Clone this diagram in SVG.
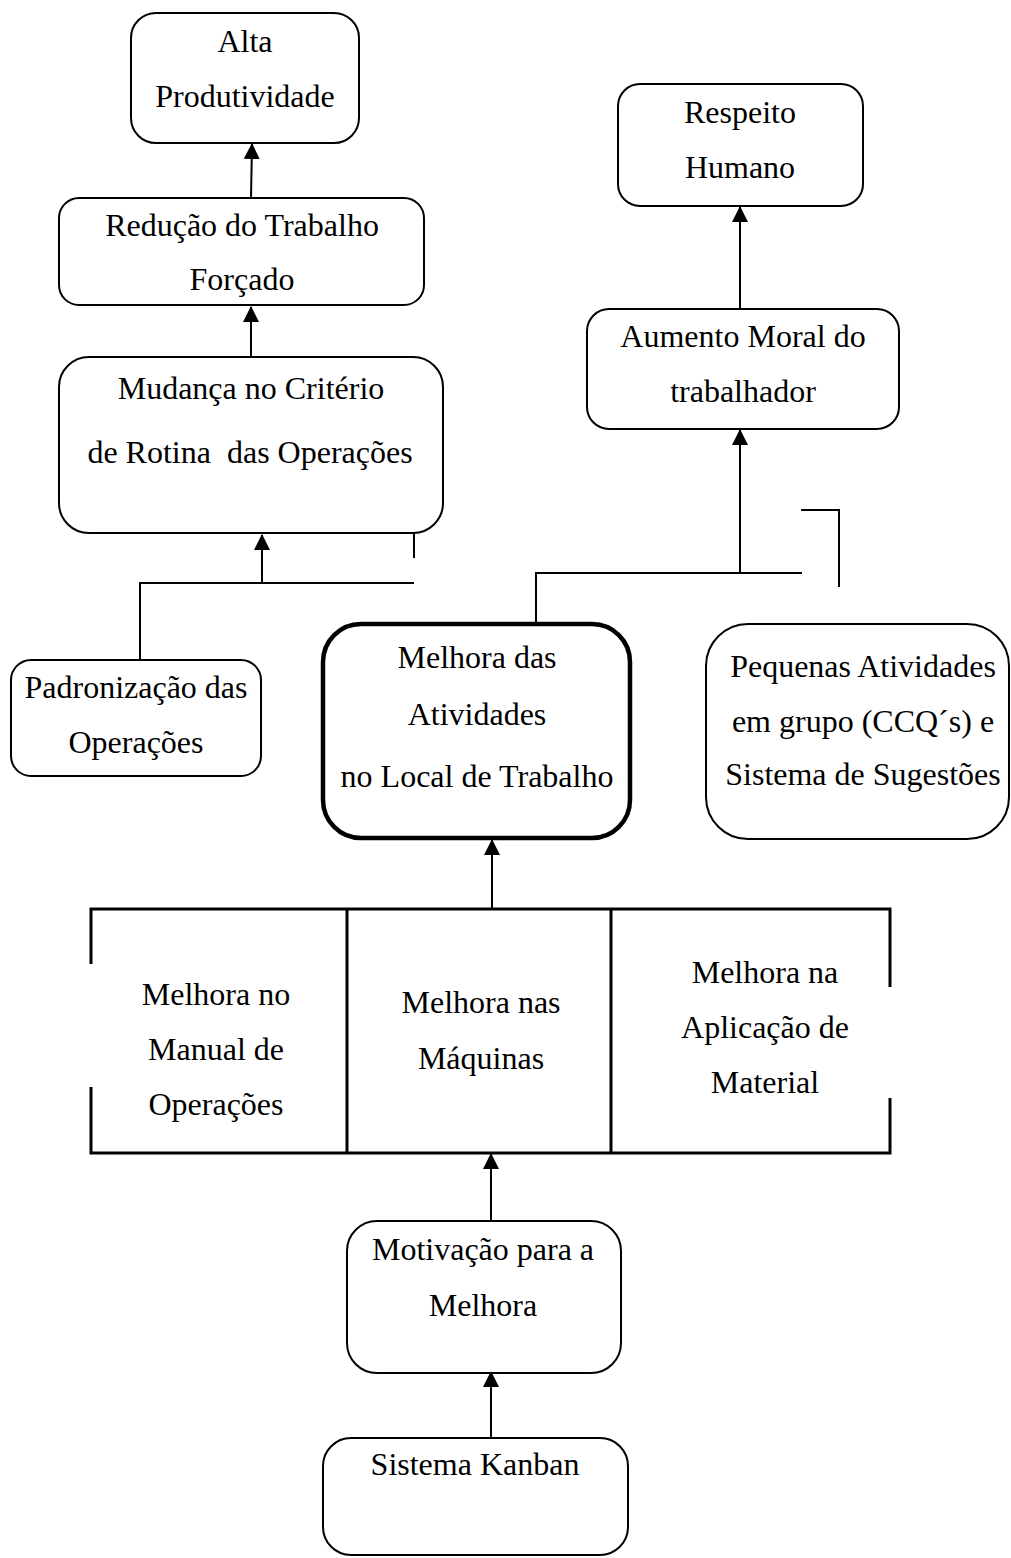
<svg xmlns="http://www.w3.org/2000/svg" width="1011" height="1558" viewBox="0 0 1011 1558">
<style>
  .box { fill: #fff; stroke: #000; stroke-width: 2; }
  .thick { fill: #fff; stroke: #000; stroke-width: 4.5; }
  .t { font-family: "Liberation Serif", "Times New Roman", serif; font-size: 32px; fill: #000; text-anchor: middle; }
  .c { fill: none; stroke: #000; stroke-width: 2; }
  .frame { fill: none; stroke: #000; stroke-width: 3; }
</style>
<defs>
  <marker id="ah" markerUnits="userSpaceOnUse" markerWidth="16" markerHeight="16" viewBox="0 0 16 16" refX="15" refY="8" orient="auto">
    <path d="M0,0 L16,8 L0,16 Z" fill="#000"/>
  </marker>
</defs>
<rect width="1011" height="1558" fill="#fff"/>

<g id="connectors">
  <line class="c" x1="251" y1="198" x2="252" y2="144" marker-end="url(#ah)"/>
  <line class="c" x1="251" y1="357" x2="251" y2="307" marker-end="url(#ah)"/>
  <line class="c" x1="262" y1="583" x2="262" y2="535" marker-end="url(#ah)"/>
  <polyline class="c" points="140,660 140,583 414,583"/>
  <line class="c" x1="414" y1="533" x2="414" y2="558"/>
  <line class="c" x1="740" y1="309" x2="740" y2="207" marker-end="url(#ah)"/>
  <line class="c" x1="740" y1="573" x2="740" y2="430" marker-end="url(#ah)"/>
  <polyline class="c" points="536,631 536,573 802,573"/>
  <polyline class="c" points="801,510 839,510 839,587"/>
  <line class="c" x1="492" y1="909" x2="492" y2="840" marker-end="url(#ah)"/>
  <line class="c" x1="491" y1="1221" x2="491" y2="1154" marker-end="url(#ah)"/>
  <line class="c" x1="491" y1="1438" x2="491" y2="1372" marker-end="url(#ah)"/>
</g>

<g id="alta">
  <rect class="box" x="131" y="13" width="228" height="130" rx="25"/>
  <text class="t" x="245" y="52">Alta</text>
  <text class="t" x="245" y="107">Produtividade</text>
</g>

<g id="reducao">
  <rect class="box" x="59" y="198" width="365" height="107" rx="20"/>
  <text class="t" x="242" y="236">Redução do Trabalho</text>
  <text class="t" x="242" y="290">Forçado</text>
</g>

<g id="mudanca">
  <rect class="box" x="59" y="357" width="384" height="176" rx="30"/>
  <text class="t" x="251" y="399">Mudança no Critério</text>
  <text class="t" x="250" y="463" xml:space="preserve">de Rotina  das Operações</text>
</g>

<g id="padronizacao">
  <rect class="box" x="11" y="660" width="250" height="116" rx="20"/>
  <text class="t" x="136" y="698">Padronização das</text>
  <text class="t" x="136" y="753">Operações</text>
</g>

<g id="respeito">
  <rect class="box" x="618" y="84" width="245" height="122" rx="22"/>
  <text class="t" x="740" y="123">Respeito</text>
  <text class="t" x="740" y="178">Humano</text>
</g>

<g id="aumento">
  <rect class="box" x="587" y="309" width="312" height="120" rx="22"/>
  <text class="t" x="743" y="347">Aumento Moral do</text>
  <text class="t" x="743" y="402">trabalhador</text>
</g>

<g id="melhora-atividades">
  <rect class="thick" x="323" y="624" width="307" height="214" rx="38"/>
  <text class="t" x="477" y="668">Melhora das</text>
  <text class="t" x="477" y="725">Atividades</text>
  <text class="t" x="477" y="787">no Local de Trabalho</text>
</g>

<g id="pequenas">
  <rect class="box" x="706" y="624" width="303" height="215" rx="42"/>
  <text class="t" x="863" y="677">Pequenas Atividades</text>
  <text class="t" x="863" y="732">em grupo (CCQ´s) e</text>
  <text class="t" x="863" y="785">Sistema de Sugestões</text>
</g>

<g id="melhorias">
  <path class="frame" d="M91,964 L91,909 L890,909 L890,987 M890,1098 L890,1153 L91,1153 L91,1087 M347,909 L347,1153 M611,909 L611,1153"/>
  <text class="t" x="216" y="1005">Melhora no</text>
  <text class="t" x="216" y="1060">Manual de</text>
  <text class="t" x="216" y="1115">Operações</text>
  <text class="t" x="481" y="1013">Melhora nas</text>
  <text class="t" x="481" y="1069">Máquinas</text>
  <text class="t" x="765" y="983">Melhora na</text>
  <text class="t" x="765" y="1038">Aplicação de</text>
  <text class="t" x="765" y="1093">Material</text>
</g>

<g id="motivacao">
  <rect class="box" x="347" y="1221" width="274" height="152" rx="30"/>
  <text class="t" x="483" y="1260">Motivação para a</text>
  <text class="t" x="483" y="1316">Melhora</text>
</g>

<g id="kanban">
  <rect class="box" x="323" y="1438" width="305" height="117" rx="28"/>
  <text class="t" x="475" y="1475">Sistema Kanban</text>
</g>
</svg>
